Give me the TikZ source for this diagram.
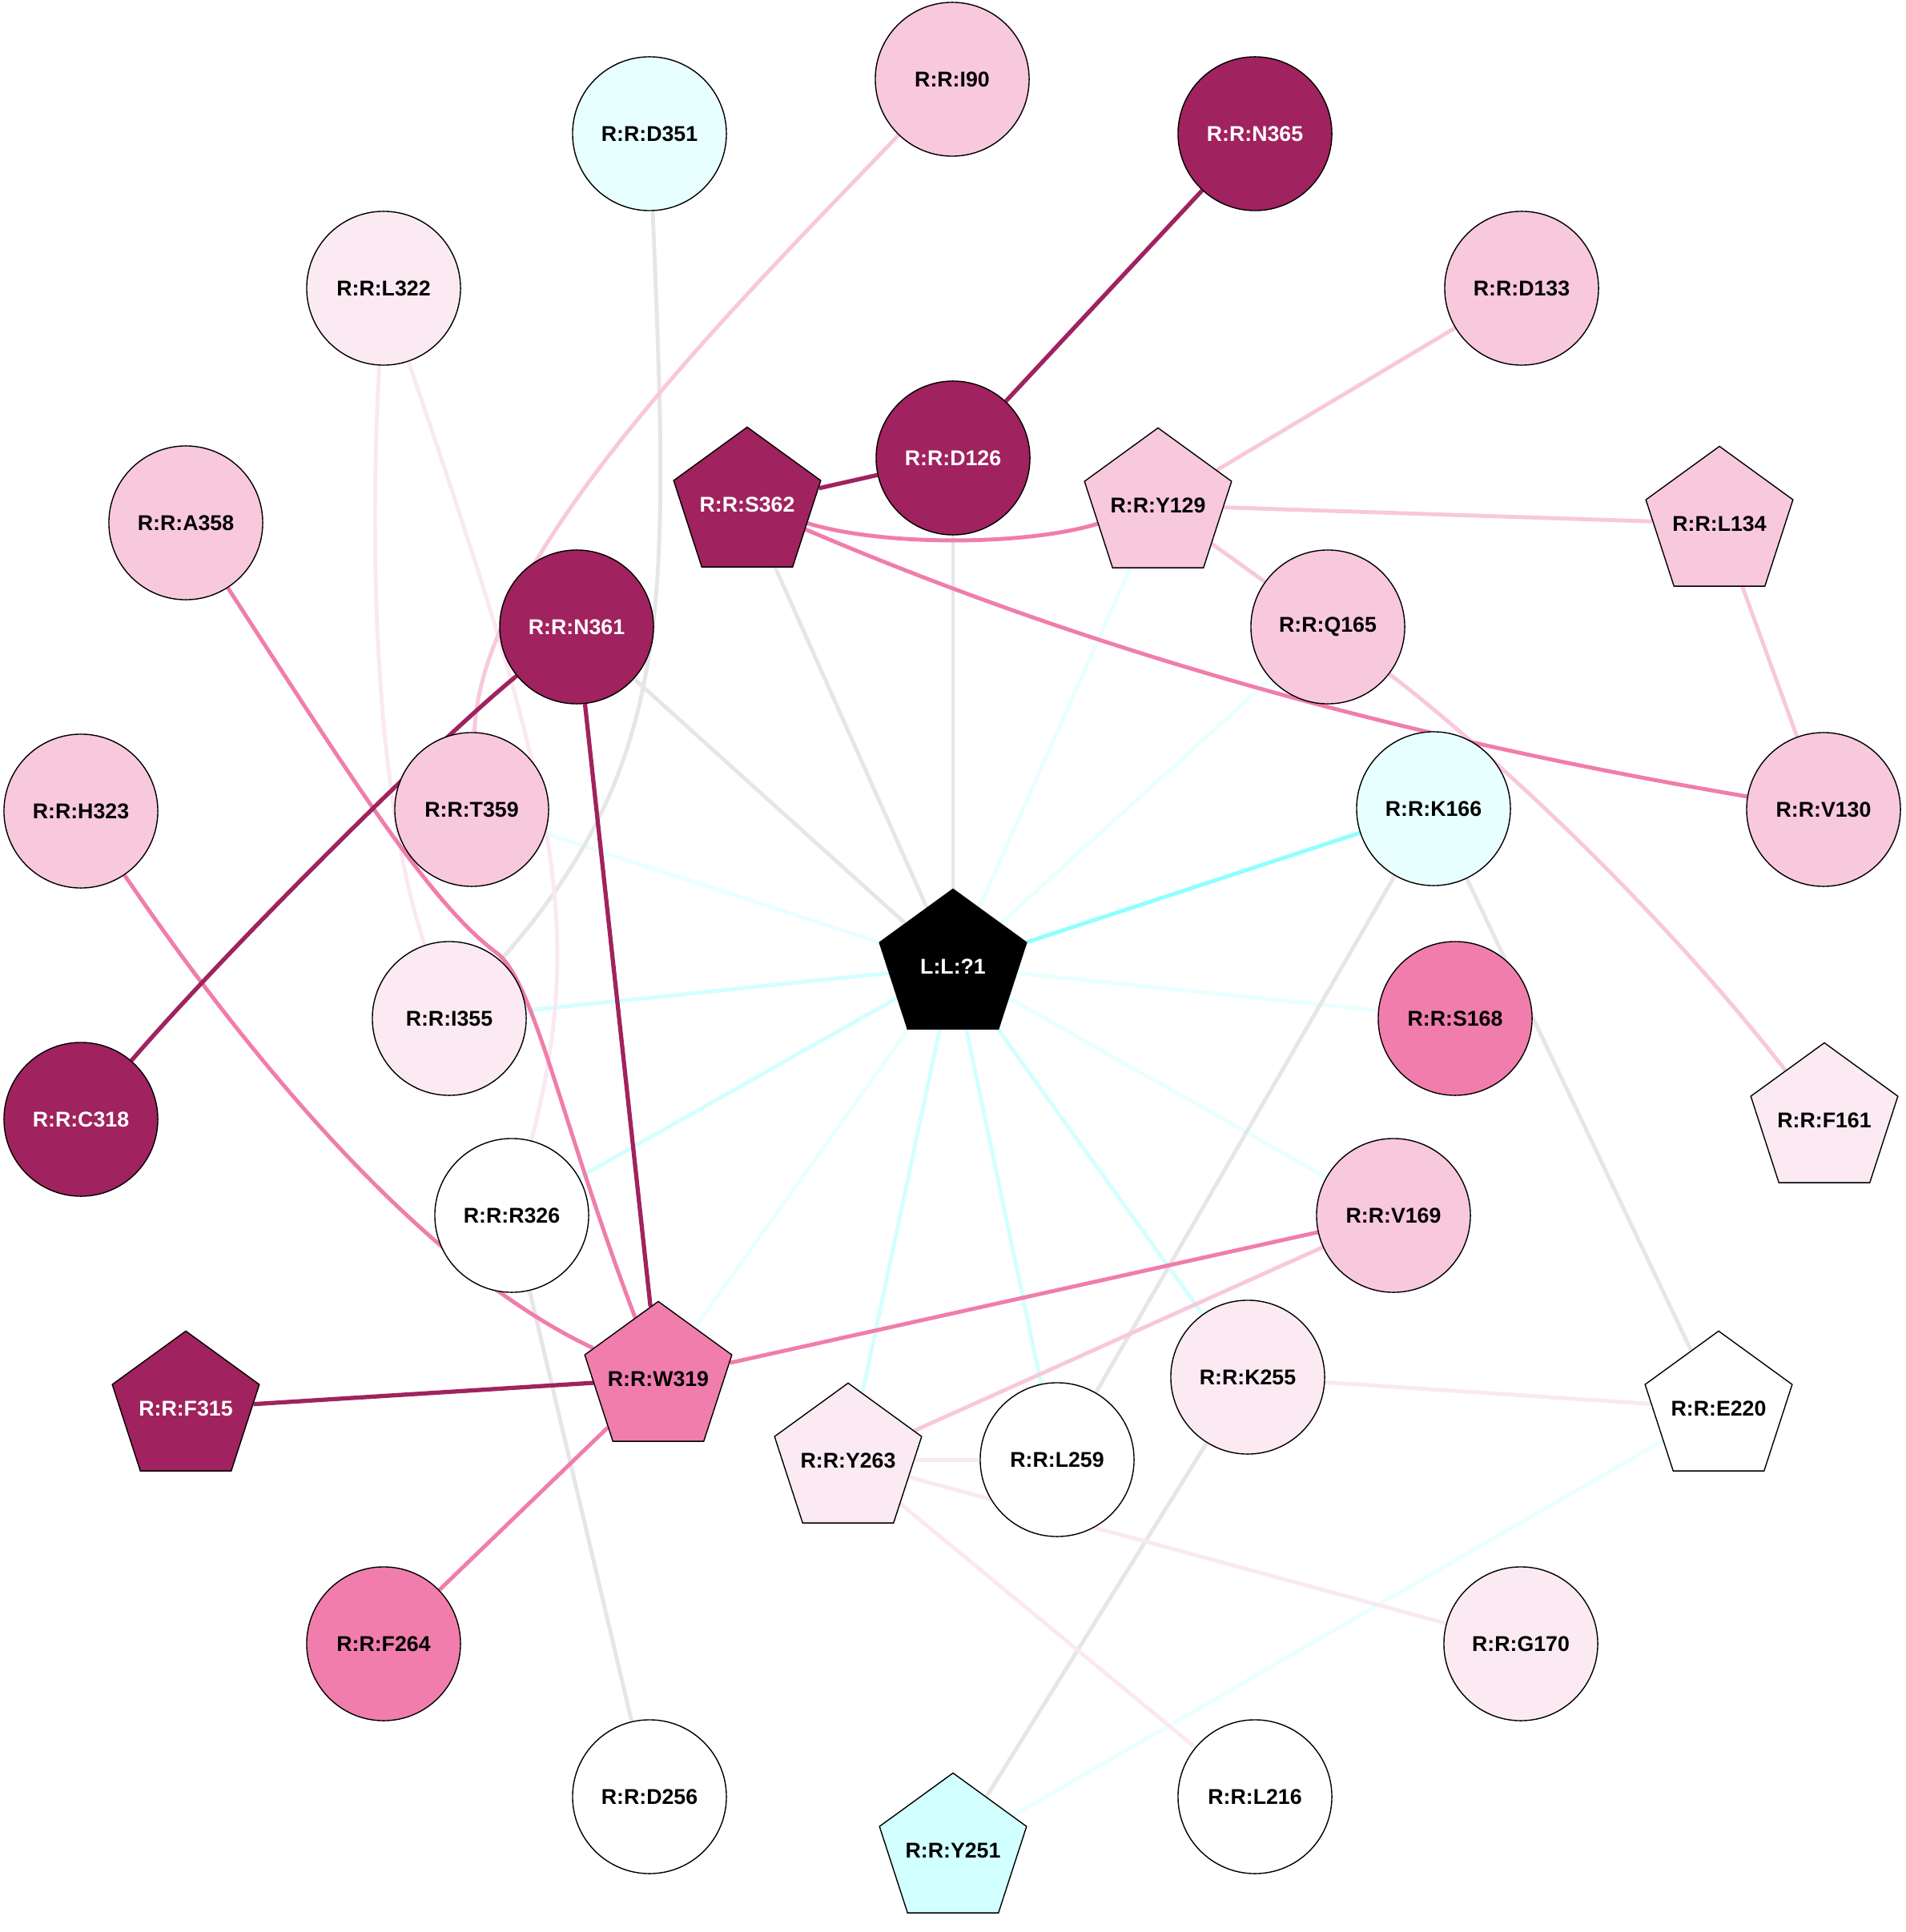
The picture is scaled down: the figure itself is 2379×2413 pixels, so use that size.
\documentclass[tikz,border=0pt]{standalone}
\usepackage{fontspec}
\setmainfont{Liberation Sans}
\usetikzlibrary{shapes.geometric,backgrounds}

\definecolor{dkmag}{HTML}{A0225E}
\definecolor{mdpink}{HTML}{F07DAB}
\definecolor{ltpink}{HTML}{F8C8DC}
\definecolor{vlpink}{HTML}{FBEAF2}
\definecolor{cynode}{HTML}{E8FFFF}
\definecolor{cyblue}{HTML}{D2FFFF}
\definecolor{lkgrey}{HTML}{E6E6E6}
\definecolor{lkcyA}{HTML}{90FFFF}
\definecolor{lkcyB}{HTML}{D4FFFF}
\definecolor{lkcyC}{HTML}{EAFFFF}
\definecolor{lkvl}{HTML}{FBE8F1}

\newcommand{\plab}[1]{\makebox[0pt]{#1}}

\begin{document}
\begin{tikzpicture}[x=0.01cm, y=-0.01cm,
		every node/.style={font=\bfseries\fontsize{7.6}{9}\selectfont, draw=black, line width=0.4pt, inner sep=0pt},
		res/.style={circle, minimum size=1.92cm},
		pent/.style={regular polygon, regular polygon sides=5, minimum size=1.93cm},
		dk/.style={fill=dkmag, text=white},
		md/.style={fill=mdpink},
		lp/.style={fill=ltpink},
		vl/.style={fill=vlpink},
		cyn/.style={fill=cynode},
		cyb/.style={fill=cyblue},
		wh/.style={fill=white},
		lkdark/.style={draw=dkmag, line width=1.5pt},
		lkmed/.style={draw=mdpink, line width=1.4pt},
		lklight/.style={draw=ltpink, line width=1.4pt},
		lkpale/.style={draw=lkvl, line width=1.4pt},
		lkgray/.style={draw=lkgrey, line width=1.4pt},
		lkcyan/.style={draw=lkcyA, line width=1.4pt},
		lkcyanl/.style={draw=lkcyB, line width=1.4pt},
		lkcyanp/.style={draw=lkcyC, line width=1.4pt}]
		\useasboundingbox (0,0) rectangle (2379,2413);
		
		\node[res, cyn] (d351) at (811,167) {R:R:D351};
		\node[res, lp] (i90) at (1189,99) {R:R:I90};
		\node[res, dk] (n365) at (1567,167) {R:R:N365};
		\node[res, vl] (l322) at (479,360) {R:R:L322};
		\node[res, lp] (d133) at (1900,360) {R:R:D133};
		\node[res, dk] (d126) at (1190,572) {R:R:D126};
		\node[pent, dk] (s362) at (933,630) {\plab{R:R:S362}};
		\node[pent, lp] (y129) at (1446,631) {\plab{R:R:Y129}};
		\node[res, lp] (a358) at (232,653) {R:R:A358};
		\node[pent, lp] (l134) at (2147,654) {\plab{R:R:L134}};
		\node[res, dk] (n361) at (720,783) {R:R:N361};
		\node[res, lp] (q165) at (1658,783) {R:R:Q165};
		\node[res, lp] (h323) at (101,1013) {R:R:H323};
		\node[res, lp] (t359) at (589,1011) {R:R:T359};
		\node[res, cyn] (k166) at (1790,1010) {R:R:K166};
		\node[res, lp] (v130) at (2277,1011) {R:R:V130};
		\node[pent, fill=black, text=white] (lig) at (1190,1207) {\plab{L:L:?1}};
		\node[res, vl] (i355) at (561,1272) {R:R:I355};
		\node[res, md] (s168) at (1817,1272) {R:R:S168};
		\node[res, dk] (c318) at (101,1398) {R:R:C318};
		\node[pent, vl] (f161) at (2278,1399) {\plab{R:R:F161}};
		\node[res, wh] (r326) at (639,1518) {R:R:R326};
		\node[res, lp] (v169) at (1740,1518) {R:R:V169};
		\node[pent, md] (w319) at (822,1722) {\plab{R:R:W319}};
		\node[res, vl] (k255) at (1558,1720) {R:R:K255};
		\node[pent, dk] (f315) at (232,1759) {\plab{R:R:F315}};
		\node[pent, wh] (e220) at (2146,1759) {\plab{R:R:E220}};
		\node[pent, vl] (y263) at (1059,1824) {\plab{R:R:Y263}};
		\node[res, wh] (l259) at (1320,1823) {R:R:L259};
		\node[res, md] (f264) at (479,2053) {R:R:F264};
		\node[res, vl] (g170) at (1899,2053) {R:R:G170};
		\node[res, wh] (d256) at (811,2244) {R:R:D256};
		\node[res, wh] (l216) at (1567,2244) {R:R:L216};
		\node[pent, cyb] (y251) at (1190,2311) {\plab{R:R:Y251}};
		
		\begin{scope}[on background layer]
		\draw[lkcyanp] (y129) -- (lig);
		\draw[lkcyanp] (q165) -- (lig);
		\draw[lkcyanp] (s168) -- (lig);
		\draw[lkcyanp] (v169) -- (lig);
		\draw[lkcyanp] (w319) -- (lig);
		\draw[lkcyanp] (t359) -- (lig);
		\draw[lkcyanp] (e220) -- (y251);
		\draw[lkcyanl] (i355) -- (lig);
		\draw[lkcyanl] (r326) -- (lig);
		\draw[lkcyanl] (k255) -- (lig);
		\draw[lkcyanl] (l259) -- (lig);
		\draw[lkcyanl] (y263) -- (lig);
		\draw[lkcyan] (k166) -- (lig);
		
		\draw[lkgray] (s362) -- (lig);
		\draw[lkgray] (d126) -- (lig);
		\draw[lkgray] (n361) -- (lig);
		\draw[lkgray] (d351) .. controls (835,750) and (845,950) .. (i355);
		\draw[lkgray] (k166) -- (e220);
		\draw[lkgray] (k166) -- (l259);
		\draw[lkgray] (k255) -- (y251);
		\draw[lkgray] (r326) -- (d256);
		
		\draw[lkpale] (l322) .. controls (460,700) and (470,1000) .. (i355);
		\draw[lkpale] (l322) .. controls (690,980) and (735,1150) .. (r326);
		\draw[lkpale] (k255) -- (e220);
		\draw[lkpale] (y263) -- (l259);
		\draw[lkpale] (y263) -- (g170);
		\draw[lkpale] (y263) -- (l216);
		
		\draw[lklight] (y129) -- (d133);
		\draw[lklight] (y129) -- (l134);
		\draw[lklight] (y129) -- (q165);
		\draw[lklight] (l134) -- (v130);
		\draw[lklight] (q165) .. controls (1850,930) and (2060,1120) .. (f161);
		\draw[lklight] (i90) .. controls (900,400) and (600,700) .. (t359);
		\draw[lklight] (v169) -- (y263);
		
		\draw[lkmed] (s362) .. controls (1100,682) and (1280,682) .. (y129);
		\draw[lkmed] (s362) .. controls (1400,830) and (1800,930) .. (v130);
		\draw[lkmed] (a358) .. controls (450,990) and (540,1130) .. (620,1190) .. controls (667,1225) and (700,1400) .. (w319);
		\draw[lkmed] (h323) .. controls (300,1305) and (520,1580) .. (w319);
		\draw[lkmed] (v169) -- (w319);
		\draw[lkmed] (w319) -- (f264);
		
		\draw[lkdark] (s362) -- (d126);
		\draw[lkdark] (d126) -- (n365);
		\draw[lkdark] (n361) -- (w319);
		\draw[lkdark] (n361) .. controls (540,930) and (280,1190) .. (c318);
		\draw[lkdark] (f315) -- (w319);
		\end{scope}
\end{tikzpicture}
\end{document}
